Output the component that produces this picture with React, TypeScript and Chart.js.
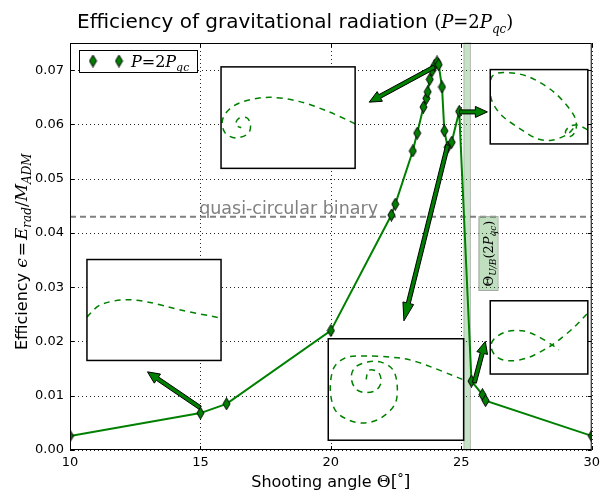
import React, { useEffect, useRef } from "react";
import { Chart, registerables } from "chart.js";

Chart.register(...registerables);

// ---------------- data ----------------
const shootingAngle = [10, 15, 16, 20, 22.32, 22.47, 23.14, 23.31, 23.55, 23.66, 23.71, 23.79, 23.88, 23.98, 24.07, 24.13, 24.26, 24.35, 24.48, 24.63, 24.92, 25.39, 25.81, 25.93, 30];
const efficiency = [0.0026, 0.0068, 0.0085, 0.022, 0.0433, 0.0453, 0.0551, 0.0584, 0.0632, 0.0648, 0.066, 0.0683, 0.0699, 0.0709, 0.0715, 0.071, 0.0669, 0.0588, 0.0558, 0.0567, 0.0624, 0.0127, 0.0102, 0.0091, 0.0026];
const xTickValues = [10, 15, 20, 25, 30];
const yTickValues = [0, 0.01, 0.02, 0.03, 0.04, 0.05, 0.06, 0.07];
const xRange = [10, 30];
const yRange = [0, 0.075];
const quasiCircularLevel = 0.043;
const quasiCircularLabel = "quasi-circular binary";
const bandRange = [25.1, 25.35];
const seriesLabel = "P=2P_qc";

// annotation arrows (data coordinates: tail -> head)
const arrowTails = [[23.97, 0.0706], [24.93, 0.0623], [24.48, 0.0562], [14.99, 0.0078], [25.5, 0.0124]];
const arrowHeads = [[21.47, 0.0641], [26.0, 0.0623], [22.8, 0.0238], [12.97, 0.0144], [25.92, 0.02]];

// inset boxes in data coordinates [xLeft, xRight, yTop, yBottom]
const insetBoxes = [
  [15.79, 20.93, 0.0706, 0.0519],
  [10.65, 15.79, 0.0351, 0.0165],
  [19.9, 25.09, 0.0205, 0.0018],
  [26.11, 29.85, 0.0701, 0.0564],
  [26.11, 29.85, 0.0275, 0.014],
];
// orbit sketches inside each inset, in box-relative units
const insetOrbits = [
  [[1.0, 0.56], [0.8, 0.44], [0.58, 0.34], [0.36, 0.3], [0.17, 0.34], [0.06, 0.42], [0.01, 0.53], [0.03, 0.65], [0.11, 0.7], [0.2, 0.66], [0.22, 0.57], [0.19, 0.5], [0.13, 0.51], [0.11, 0.57], [0.15, 0.6]],
  [[0.0, 0.57], [0.1, 0.45], [0.27, 0.4], [0.45, 0.42], [0.7, 0.5], [1.0, 0.58]],
  [[0.99, 0.4], [0.66, 0.23], [0.46, 0.18], [0.24, 0.17], [0.125, 0.19], [0.04, 0.29], [0.015, 0.5], [0.05, 0.7], [0.15, 0.8], [0.27, 0.83], [0.39, 0.78], [0.49, 0.65], [0.51, 0.48], [0.48, 0.31], [0.39, 0.23], [0.29, 0.23], [0.2, 0.28], [0.17, 0.38], [0.2, 0.49], [0.27, 0.53], [0.35, 0.51], [0.39, 0.43], [0.37, 0.33], [0.3, 0.31], [0.28, 0.4]],
  [[1.0, 0.81], [0.9, 0.75], [0.82, 0.76], [0.77, 0.84], [0.82, 0.9], [0.88, 0.8], [0.85, 0.6], [0.65, 0.3], [0.38, 0.09], [0.14, 0.04], [0.02, 0.09], [0.0, 0.26], [0.02, 0.43], [0.12, 0.62], [0.31, 0.8], [0.48, 0.93], [0.63, 0.95], [0.78, 0.88], [0.86, 0.78]],
  [[0.99, 0.18], [0.86, 0.36], [0.68, 0.56], [0.55, 0.67], [0.38, 0.78], [0.2, 0.82], [0.07, 0.77], [0.01, 0.64], [0.04, 0.52], [0.17, 0.42], [0.33, 0.41], [0.48, 0.48], [0.63, 0.6], [0.7, 0.67]],
];

const GREEN = "#008000";
const SANS = "'DejaVu Sans', sans-serif";
const SERIF = "'DejaVu Serif', serif";

type Run = { t: string; f: string; dy?: number; gap?: number };

function runsWidth(ctx: CanvasRenderingContext2D, runs: Run[]) {
  let w = 0;
  for (const r of runs) {
    ctx.font = r.f;
    w += ctx.measureText(r.t).width + (r.gap || 0);
  }
  return w;
}
function drawRuns(ctx: CanvasRenderingContext2D, runs: Run[], x: number, y: number) {
  let cx = x;
  for (const r of runs) {
    ctx.font = r.f;
    ctx.fillText(r.t, cx, y + (r.dy || 0));
    cx += ctx.measureText(r.t).width + (r.gap || 0);
  }
  return cx;
}

function makeDiamond(): HTMLCanvasElement {
  const c = document.createElement("canvas");
  c.width = 9;
  c.height = 13;
  const g = c.getContext("2d")!;
  g.beginPath();
  g.moveTo(4.5, 0.5);
  g.lineTo(8, 6.5);
  g.lineTo(4.5, 12.5);
  g.lineTo(1, 6.5);
  g.closePath();
  g.fillStyle = GREEN;
  g.fill();
  g.strokeStyle = "#000";
  g.lineWidth = 1;
  g.stroke();
  return c;
}

function smoothPath(ctx: CanvasRenderingContext2D, pts: number[][]) {
  ctx.moveTo(pts[0][0], pts[0][1]);
  for (let i = 0; i < pts.length - 1; i++) {
    const p0 = pts[i - 1] || pts[i];
    const p1 = pts[i];
    const p2 = pts[i + 1];
    const p3 = pts[i + 2] || p2;
    ctx.bezierCurveTo(
      p1[0] + (p2[0] - p0[0]) / 6, p1[1] + (p2[1] - p0[1]) / 6,
      p2[0] - (p3[0] - p1[0]) / 6, p2[1] - (p3[1] - p1[1]) / 6,
      p2[0], p2[1]
    );
  }
}

function drawArrow(ctx: CanvasRenderingContext2D, x1: number, y1: number, x2: number, y2: number) {
  const dx = x2 - x1, dy = y2 - y1;
  const L = Math.hypot(dx, dy);
  const ux = dx / L, uy = dy / L;
  const nx = -uy, ny = ux;
  const hl = Math.max(12, 0.1 * L);
  const hw = 5.5, sw = 2;
  const bx = x2 - ux * hl, by = y2 - uy * hl;
  ctx.beginPath();
  ctx.moveTo(x1 + nx * sw, y1 + ny * sw);
  ctx.lineTo(bx + nx * sw, by + ny * sw);
  ctx.lineTo(bx + nx * hw, by + ny * hw);
  ctx.lineTo(x2, y2);
  ctx.lineTo(bx - nx * hw, by - ny * hw);
  ctx.lineTo(bx - nx * sw, by - ny * sw);
  ctx.lineTo(x1 - nx * sw, y1 - ny * sw);
  ctx.closePath();
  ctx.fillStyle = GREEN;
  ctx.fill();
  ctx.strokeStyle = "#000";
  ctx.lineWidth = 1;
  ctx.stroke();
}

const decorPlugin = {
  id: "decor",
  beforeDatasetsDraw(chart: any) {
    const ctx: CanvasRenderingContext2D = chart.ctx;
    const { left, right, top, bottom } = chart.chartArea;
    const xs = chart.scales.x, ys = chart.scales.y;
    ctx.save();
    // grid
    ctx.strokeStyle = "rgba(0,0,0,0.85)";
    ctx.lineWidth = 1;
    ctx.setLineDash([1, 3]);
    for (const v of xTickValues) {
      const px = Math.round(xs.getPixelForValue(v)) + 0.5;
      ctx.beginPath();
      ctx.moveTo(px, top);
      ctx.lineTo(px, bottom);
      ctx.stroke();
    }
    for (const v of yTickValues) {
      const py = Math.round(ys.getPixelForValue(v)) + 0.5;
      ctx.beginPath();
      ctx.moveTo(left, py);
      ctx.lineTo(right, py);
      ctx.stroke();
    }
    ctx.setLineDash([]);
    // band
    const b0 = xs.getPixelForValue(bandRange[0]);
    const b1 = xs.getPixelForValue(bandRange[1]);
    ctx.fillStyle = "rgba(0,128,0,0.22)";
    ctx.fillRect(b0, top, b1 - b0, bottom - top);
    ctx.strokeStyle = "rgba(150,150,150,0.6)";
    ctx.lineWidth = 1;
    ctx.strokeRect(b0, top, b1 - b0, bottom - top);
    // quasi circular line
    const hy = ys.getPixelForValue(quasiCircularLevel);
    ctx.strokeStyle = "#808080";
    ctx.lineWidth = 2;
    ctx.setLineDash([6, 4]);
    ctx.beginPath();
    ctx.moveTo(left, hy);
    ctx.lineTo(right, hy);
    ctx.stroke();
    ctx.setLineDash([]);
    ctx.fillStyle = "#808080";
    ctx.font = `17.5px ${SANS}`;
    ctx.textAlign = "left";
    ctx.textBaseline = "alphabetic";
    ctx.fillText(quasiCircularLabel, xs.getPixelForValue(14.95), hy - 3);
    // band label box (rotated)
    {
      const runs: Run[] = [
        { t: "\u0398", f: `13px ${SERIF}` },
        { t: "U/B", f: `italic 9px ${SERIF}`, dy: 3 },
        { t: "(2", f: `13px ${SERIF}` },
        { t: "P", f: `italic 13px ${SERIF}` },
        { t: "qc", f: `italic 9px ${SERIF}`, dy: 3 },
        { t: ")", f: `13px ${SERIF}` },
      ];
      const w = runsWidth(ctx, runs);
      const bxL = xs.getPixelForValue(25.66);
      const cy = ys.getPixelForValue(0.0362);
      const boxW = 19, boxH = w + 8;
      ctx.fillStyle = "rgba(0,128,0,0.25)";
      ctx.fillRect(bxL, cy - boxH / 2, boxW, boxH);
      ctx.strokeStyle = "rgba(160,160,160,0.9)";
      ctx.lineWidth = 1;
      ctx.strokeRect(bxL + 0.5, cy - boxH / 2, boxW, boxH);
      ctx.save();
      ctx.translate(bxL + 14, cy + w / 2);
      ctx.rotate(-Math.PI / 2);
      ctx.fillStyle = "#000";
      drawRuns(ctx, runs, 0, 0);
      ctx.restore();
    }
    // insets
    insetBoxes.forEach((bx, i) => {
      const x0 = xs.getPixelForValue(bx[0]);
      const x1 = xs.getPixelForValue(bx[1]);
      const y0 = ys.getPixelForValue(bx[2]);
      const y1 = ys.getPixelForValue(bx[3]);
      ctx.fillStyle = "#fff";
      ctx.fillRect(x0, y0, x1 - x0, y1 - y0);
      ctx.save();
      ctx.beginPath();
      ctx.rect(x0, y0, x1 - x0, y1 - y0);
      ctx.clip();
      const pts = insetOrbits[i].map((p) => [x0 + p[0] * (x1 - x0), y0 + p[1] * (y1 - y0)]);
      ctx.beginPath();
      smoothPath(ctx, pts);
      ctx.strokeStyle = GREEN;
      ctx.lineWidth = 1.5;
      ctx.setLineDash([6, 5]);
      ctx.stroke();
      ctx.restore();
      ctx.setLineDash([]);
      ctx.strokeStyle = "#000";
      ctx.lineWidth = 1.5;
      ctx.strokeRect(x0, y0, x1 - x0, y1 - y0);
    });
    ctx.restore();
  },
  afterDatasetsDraw(chart: any) {
    const ctx: CanvasRenderingContext2D = chart.ctx;
    const { left, right, top, bottom } = chart.chartArea;
    const xs = chart.scales.x, ys = chart.scales.y;
    ctx.save();
    // arrows
    arrowTails.forEach((t, i) => {
      const h = arrowHeads[i];
      drawArrow(ctx, xs.getPixelForValue(t[0]), ys.getPixelForValue(t[1]), xs.getPixelForValue(h[0]), ys.getPixelForValue(h[1]));
    });
    // frame
    ctx.strokeStyle = "#000";
    ctx.lineWidth = 1;
    ctx.strokeRect(left + 0.5, top + 0.5, right - left - 1, bottom - top - 1);
    // inner ticks
    ctx.beginPath();
    for (const v of xTickValues) {
      const px = Math.round(xs.getPixelForValue(v)) + 0.5;
      ctx.moveTo(px, bottom);
      ctx.lineTo(px, bottom - 4);
      ctx.moveTo(px, top);
      ctx.lineTo(px, top + 4);
    }
    for (const v of yTickValues) {
      const py = Math.round(ys.getPixelForValue(v)) + 0.5;
      ctx.moveTo(left, py);
      ctx.lineTo(left + 4, py);
      ctx.moveTo(right, py);
      ctx.lineTo(right - 4, py);
    }
    ctx.stroke();
    // legend
    const lx = left + 9, ly = top + 7;
    ctx.fillStyle = "#fff";
    ctx.fillRect(lx, ly, 118, 22);
    ctx.strokeStyle = "#000";
    ctx.lineWidth = 1;
    ctx.strokeRect(lx + 0.5, ly + 0.5, 118, 22);
    const dm = makeDiamond();
    ctx.drawImage(dm, lx + 14 - 4.5, ly + 11 - 6.5);
    ctx.drawImage(dm, lx + 40 - 4.5, ly + 11 - 6.5);
    ctx.fillStyle = "#000";
    ctx.textAlign = "left";
    ctx.textBaseline = "alphabetic";
    const parts = seriesLabel.split("_");
    drawRuns(ctx, [
      { t: "P", f: `italic 16px ${SERIF}` },
      { t: "=", f: `16px ${SERIF}` },
      { t: "2", f: `16px ${SERIF}` },
      { t: parts[0].slice(-1), f: `italic 16px ${SERIF}` },
      { t: parts[1], f: `italic 11px ${SERIF}`, dy: 4 },
    ], lx + 52, ly + 17);
    ctx.restore();
  },
  afterDraw(chart: any) {
    const ctx: CanvasRenderingContext2D = chart.ctx;
    const { left, right, top, bottom } = chart.chartArea;
    ctx.save();
    ctx.fillStyle = "#000";
    ctx.textAlign = "left";
    ctx.textBaseline = "alphabetic";
    // title
    drawRuns(ctx, [
      { t: "Efficiency of gravitational radiation ", f: `20px ${SANS}` },
      { t: "(", f: `18px ${SERIF}` },
      { t: "P", f: `italic 18px ${SERIF}` },
      { t: "=", f: `18px ${SERIF}` },
      { t: "2", f: `18px ${SERIF}` },
      { t: "P", f: `italic 18px ${SERIF}` },
      { t: "qc", f: `italic 12px ${SERIF}`, dy: 5 },
      { t: ")", f: `18px ${SERIF}` },
    ], left + 7, top - 15);
    // x label
    const xRuns: Run[] = [
      { t: "Shooting angle ", f: `16px ${SANS}` },
      { t: "\u0398", f: `17px ${SERIF}` },
      { t: "[", f: `17px ${SERIF}` },
      { t: "\u00B0", f: `13px ${SERIF}`, dy: -4 },
      { t: "]", f: `17px ${SERIF}` },
    ];
    const xw = runsWidth(ctx, xRuns);
    drawRuns(ctx, xRuns, (left + right) / 2 - xw / 2, bottom + 37);
    // y label
    const yRuns: Run[] = [
      { t: "Efficiency ", f: `16px ${SANS}` },
      { t: "\u03F5", f: `italic 17px ${SERIF}`, gap: 2 },
      { t: "=", f: `17px ${SERIF}`, gap: 2 },
      { t: "E", f: `italic 17px ${SERIF}` },
      { t: "rad", f: `italic 12px ${SERIF}`, dy: 4 },
      { t: "/", f: `17px ${SERIF}` },
      { t: "M", f: `italic 17px ${SERIF}` },
      { t: "ADM", f: `italic 12px ${SERIF}`, dy: 4 },
    ];
    ctx.translate(27, 350);
    ctx.rotate(-Math.PI / 2);
    drawRuns(ctx, yRuns, 0, 0);
    ctx.restore();
  },
};

export default function App() {
  const ref = useRef<HTMLCanvasElement | null>(null);
  useEffect(() => {
    if (!ref.current) return;
    const chart = new Chart(ref.current, {
      type: "line",
      data: {
        datasets: [
          {
            label: seriesLabel,
            data: shootingAngle.map((x, i) => ({ x, y: efficiency[i] })),
            borderColor: GREEN,
            borderWidth: 2,
            pointStyle: makeDiamond() as any,
            pointRadius: 5,
            tension: 0,
          },
        ],
      },
      options: {
        animation: false,
        responsive: false,
        devicePixelRatio: 1,
        layout: { padding: { top: 43, right: 10, left: 0, bottom: 0 } },
        plugins: { legend: { display: false }, tooltip: { enabled: false }, title: { display: false } },
        scales: {
          x: {
            type: "linear",
            min: xRange[0],
            max: xRange[1],
            grid: { display: false, drawTicks: false },
            border: { display: false },
            afterFit: (s: any) => { s.height = 41; },
            afterBuildTicks: (s: any) => { s.ticks = xTickValues.map((v) => ({ value: v })); },
            ticks: { padding: 5, color: "#000", font: { family: "DejaVu Sans", size: 13 }, callback: (v: any) => String(v) },
          },
          y: {
            type: "linear",
            min: yRange[0],
            max: yRange[1],
            grid: { display: false, drawTicks: false },
            border: { display: false },
            afterFit: (s: any) => { s.width = 70; },
            afterBuildTicks: (s: any) => { s.ticks = yTickValues.map((v) => ({ value: v })); },
            ticks: { padding: 6, color: "#000", font: { family: "DejaVu Sans", size: 13 }, callback: (v: any) => Number(v).toFixed(2) },
          },
        },
      },
      plugins: [decorPlugin],
    });
    return () => chart.destroy();
  }, []);
  return (
    <div style={{ position: "absolute", left: 0, top: 0, width: 605, height: 491, background: "#fff" }}>
      <canvas ref={ref} width={605} height={491} style={{ display: "block", width: 605, height: 491 }} />
    </div>
  );
}
